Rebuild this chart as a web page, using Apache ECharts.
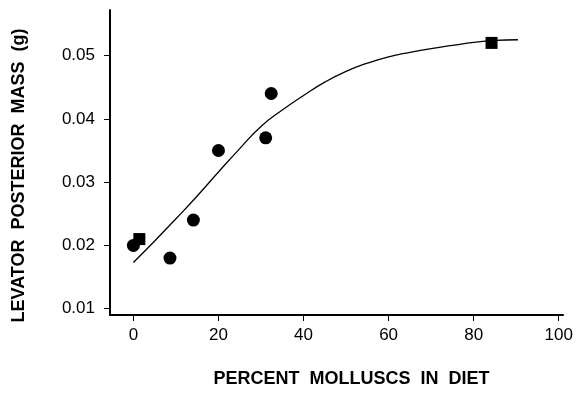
<!DOCTYPE html>
<html>
<head>
<meta charset="utf-8">
<script src="https://cdn.jsdelivr.net/npm/echarts@6/dist/echarts.min.js"></script>
<style>
  html, body { margin: 0; padding: 0; background: #fff; }
  #chart { width: 580px; height: 393px; }
</style>
</head>
<body>
<div id="chart"></div>
<script>
// circles and squares
const circlePts = [[0, 0.020], [8.6, 0.018], [14.1, 0.024], [20, 0.035], [31.1, 0.037], [32.4, 0.044]];
const squarePts = [[1.4, 0.021], [84.2, 0.052]];
// fitted curve
const curveX = [0, 5, 10, 15, 20, 25, 30, 35, 40, 45, 50, 55, 60, 65, 70, 75, 80, 85, 90.4];
const curveY = [0.0173, 0.0207, 0.0242, 0.0278, 0.0316, 0.0353, 0.0388, 0.0414, 0.0437, 0.0458, 0.0475, 0.0488, 0.0498, 0.0505, 0.0511, 0.0516, 0.0521, 0.0524, 0.0525];
const xTicks = [0, 20, 40, 60, 80, 100];
const yTicks = [0.01, 0.02, 0.03, 0.04, 0.05];

const curve = curveX.map(function (x, i) { return [x, curveY[i]]; });
const chart = echarts.init(document.getElementById('chart'));

chart.setOption({
  animation: false,
  grid: { left: 110, right: 17, top: 10, bottom: 74 },
  xAxis: {
    type: 'value',
    min: -5.5,
    max: 101,
    name: 'PERCENT  MOLLUSCS  IN  DIET',
    nameLocation: 'middle',
    nameGap: 55,
    nameTextStyle: { fontFamily: 'Liberation Sans', fontWeight: 'bold', fontSize: 18, color: '#000', padding: [0, 0, 0, 30] },
    splitLine: { show: false },
    axisLine: { onZero: false, lineStyle: { color: '#000', width: 2 } },
    axisTick: { customValues: xTicks, length: 6, lineStyle: { color: '#000', width: 1 } },
    axisLabel: { customValues: xTicks, margin: 12, fontFamily: 'Liberation Sans', fontSize: 17, color: '#000' }
  },
  yAxis: {
    type: 'value',
    min: 0.009,
    max: 0.0572,
    name: 'LEVATOR  POSTERIOR  MASS  (g)',
    nameLocation: 'middle',
    nameGap: 82,
    nameTextStyle: { fontFamily: 'Liberation Sans', fontWeight: 'bold', fontSize: 18, color: '#000', padding: [0, 26, 0, 0] },
    splitLine: { show: false },
    axisLine: { show: true, onZero: false, lineStyle: { color: '#000', width: 2 } },
    axisTick: { show: true, customValues: yTicks, length: 6, lineStyle: { color: '#000', width: 1 } },
    axisLabel: { customValues: yTicks, margin: 15, fontFamily: 'Liberation Sans', fontSize: 17, color: '#000',
      formatter: function (v) { return v.toFixed(2); } }
  },
  series: [
    {
      type: 'line',
      data: curve,
      smooth: true,
      showSymbol: false,
      lineStyle: { color: '#000', width: 1.3 },
      z: 1
    },
    {
      type: 'scatter',
      data: circlePts,
      symbol: 'circle',
      symbolSize: 13,
      itemStyle: { color: '#000', opacity: 1 },
      z: 2
    },
    {
      type: 'scatter',
      data: squarePts,
      symbol: 'rect',
      symbolSize: 12,
      itemStyle: { color: '#000', opacity: 1 },
      z: 2
    }
  ]
});
</script>
</body>
</html>
